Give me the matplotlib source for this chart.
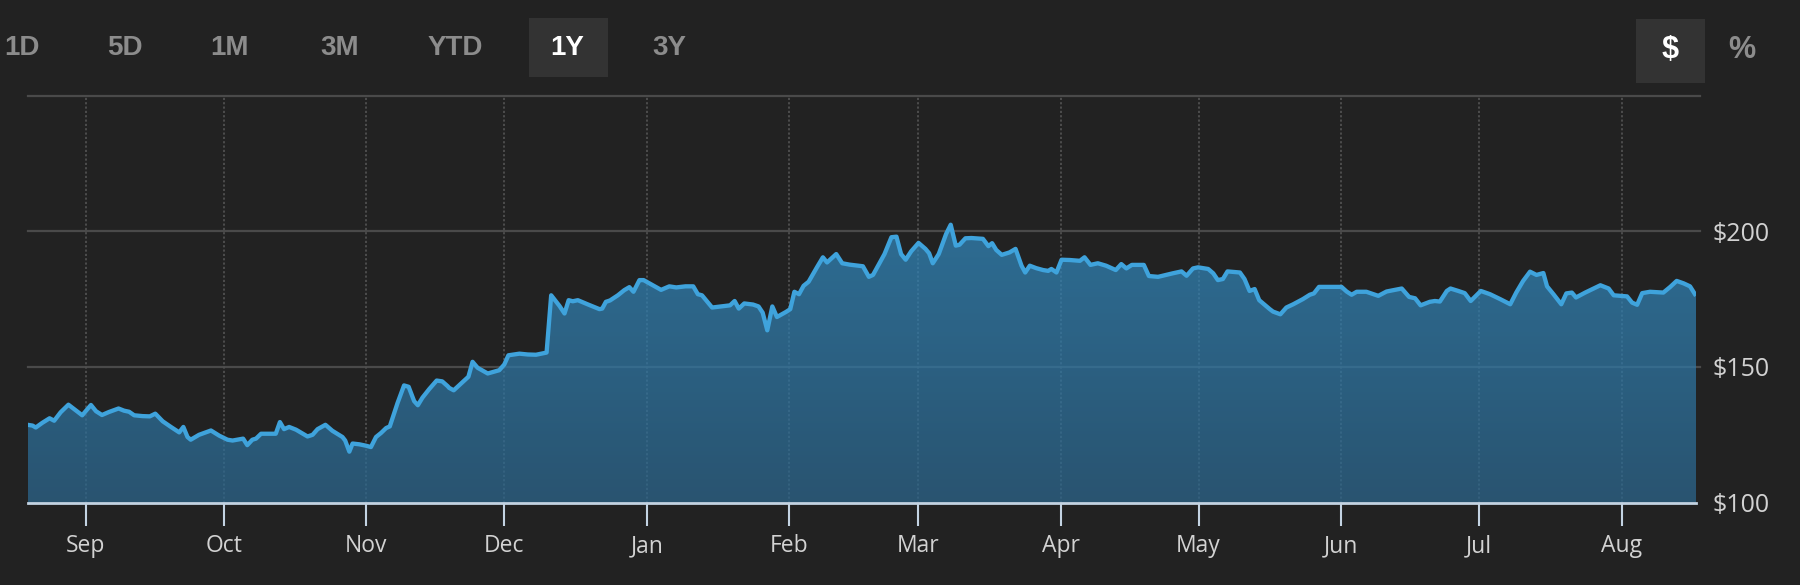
import numpy as np
import pandas as pd
import matplotlib
matplotlib.use("Agg")
import matplotlib.pyplot as plt
import matplotlib.dates as mdates
from matplotlib.patches import Polygon, Rectangle
from matplotlib.colors import LinearSegmentedColormap

# ---------------- data ----------------
start_date = "2020-09-01"
# x position of each vertex, in days after 1 Sep 2020
day_offsets = [
    -12.7, -11.6, -10.9, -9.5, -7.9, -6.9, -5.5, -3.8, -2.2, -0.8, 1.1, 2.2, 3.5, 5.0, 7.1, 8.3, 9.4,
    10.5, 12.3, 13.9, 15.1, 16.7, 18.5, 20.3, 21.2, 22.1, 22.8, 24.6, 27.2, 29.0, 30.8, 31.9, 34.2,
    35.1, 36.2, 37.0, 38.1, 39.5, 41.3, 42.2, 43.1, 44.2, 45.7, 48.2, 49.3, 50.4, 52.1, 53.6, 55.8,
    56.4, 57.3, 58.0, 59.5, 60.9, 62.0, 63.1, 64.2, 65.3, 66.1, 67.8, 69.2, 70.2, 71.4, 72.2, 73.2,
    74.7, 76.3, 77.5, 78.7,
    79.0, 80.0, 81.6, 83.2, 84.1, 85.2, 87.4, 89.9, 91.0, 91.9, 94.3, 96.1, 97.9, 99.0, 100.2,
    101.2, 103.0, 104.1, 105.0, 105.9, 107.0, 109.1, 111.7, 112.3, 113.1, 114.0, 115.7, 117.1,
    118.2, 119.1, 120.4, 121.3, 123.3, 125.1, 126.9, 128.4, 130.4, 132.1, 133.1, 134.0, 136.2,
    138.2, 140.1, 141.1, 142.0, 143.2, 145.1, 146.3, 147.2, 148.2, 149.3, 150.3, 152.3, 153.2,
    154.1, 155.1, 156.1, 157.2, 159.0, 160.3, 161.2, 163.2, 164.5,
    166.1, 169.0, 170.3, 171.2, 173.7, 175.2, 176.3, 177.3, 178.3, 179.5, 181.1, 182.6, 183.4,
    184.2, 185.5, 187.1, 188.1, 189.2, 190.0, 191.3, 192.6, 195.1, 196.3, 197.1, 198.0, 199.2,
    200.9, 202.2, 203.5, 204.3, 205.3, 206.7, 208.2, 209.3, 210.0, 211.1, 212.2, 214.0, 216.2,
    217.2, 218.5, 220.1, 221.9, 224.0, 225.2, 226.3, 227.5, 230.1, 231.2, 233.2, 236.4, 238.3,
    239.4, 240.8, 241.9, 244.1, 245.2, 246.2, 247.3, 248.3, 251.0, 252.0, 253.1, 254.2, 255.2,
    257.5,
    258.2, 259.8, 261.1, 262.6, 264.7, 266.2, 267.1, 268.2, 270.9, 273.1, 274.2, 275.3, 276.4,
    278.5, 281.1, 282.9, 286.2, 287.8, 289.1, 290.3, 292.3, 293.4, 294.5, 296.0, 296.8, 298.5,
    299.9, 301.2, 303.4, 305.4, 307.6, 309.8, 311.1, 312.6, 314.1, 315.5, 317.0, 317.8, 319.2,
    320.9, 322.0, 323.2, 324.1, 326.1, 329.4, 331.2, 332.3, 333.9, 335.2, 336.3, 337.4, 338.5,
    340.2, 343.1, 344.6, 346.0, 347.5, 348.9, 350.2,
]
prices = [
    128.7, 128.4, 127.7, 129.4, 131.1, 130.2, 133.3, 136.1, 134.0, 132.2, 136.0, 133.7, 132.3, 133.4,
    134.7, 133.9, 133.5, 132.2, 131.9, 131.8, 132.8, 130.0, 127.9, 125.9, 127.9, 124.2, 123.2, 125.0,
    126.6, 124.7, 123.2, 122.9, 123.6, 121.2, 123.2, 123.6, 125.4, 125.4, 125.4, 129.7, 127.1, 127.9,
    126.9, 124.4, 125.0, 127.1, 128.7, 126.5, 124.2, 122.9, 118.8, 121.8, 121.5, 121.0, 120.5, 124.2,
    125.7, 127.5, 128.1, 136.8, 143.2, 142.7, 137.4, 135.9, 138.7, 141.9, 145.0, 144.7, 142.9,
    142.3, 141.4, 143.9, 146.4, 151.9, 149.7, 147.6, 148.8, 150.9, 154.3, 154.9, 154.6, 154.5, 154.9,
    155.3, 176.4, 172.5, 169.7, 174.6, 174.2, 174.6, 173.1, 171.3, 171.5, 174.0, 174.5, 176.4, 178.3,
    179.4, 177.7, 182.0, 182.0, 180.1, 178.4, 179.7, 179.3, 179.7, 179.7, 176.8, 176.4, 171.9, 172.3,
    172.7, 174.3, 171.5, 173.4, 173.0, 172.3, 170.0, 163.5, 172.3, 168.4, 170.3, 171.3, 177.7, 176.8,
    179.9, 181.4, 186.7, 190.4, 188.5, 191.6, 188.2,
    187.7, 187.1, 183.2, 183.9, 191.6, 197.8, 198.0, 191.6, 189.5, 192.6, 195.7, 193.5, 191.9, 188.2,
    191.6, 199.0, 202.4, 194.7, 195.0, 197.4, 197.5, 197.2, 194.5, 195.6, 193.1, 191.3, 192.2, 193.5,
    187.3, 184.8, 187.3, 186.4, 185.7, 185.4, 186.1, 184.8, 189.5, 189.4, 189.1, 190.4, 187.6, 188.2,
    187.3, 185.7, 187.9, 186.3, 187.6, 187.6, 183.5, 183.2, 184.5, 185.2, 183.6, 186.3, 186.7, 186.1,
    184.5, 182.0, 182.4, 185.2, 184.8, 182.4, 178.0, 178.7, 174.6, 171.3,
    170.4, 169.4, 171.9, 173.1, 175.0, 176.6, 177.1, 179.5, 179.5, 179.5, 177.8, 176.6, 177.7, 177.7,
    176.2, 177.8, 178.9, 175.8, 175.3, 172.7, 174.0, 174.3, 174.1, 178.0, 178.9, 178.0, 177.2, 174.3,
    178.0, 176.8, 175.0, 173.1, 177.4, 181.7, 185.1, 183.9, 184.6, 179.7, 176.8, 173.1, 177.1, 177.4,
    175.6, 177.4, 180.1, 178.9, 176.4, 176.2, 176.0, 173.7, 172.9, 177.2, 177.7, 177.4, 179.5, 181.7,
    180.8, 179.7, 176.2,
]
assert len(day_offsets) == len(prices)

y_ticks = [100, 150, 200]
y_tick_labels = ["$100", "$150", "$200"]
y_grid = [150, 200, 250]
y_min, y_max = 100, 250

range_buttons = ["1D", "5D", "1M", "3M", "YTD", "1Y", "3Y"]
active_range = "1Y"
unit_buttons = ["$", "%"]
active_unit = "$"

# ---------------- styling ----------------
BG = "#222222"
LINE = "#3fa3dc"
AXIS = "#c3d3e2"
GRID = "#4a4a4a"
TXT = "#d2d2d2"
W, H = 1800, 585

fig = plt.figure(figsize=(W / 100, H / 100), dpi=100)
fig.patch.set_facecolor(BG)

left, right, top, bottom = 27.5, 1696, 95.5, 502.7
ax = fig.add_axes([left / W, 1 - bottom / H, (right - left) / W, (bottom - top) / H])
ax.set_facecolor("none")

dates = pd.Timestamp(start_date) + pd.to_timedelta(day_offsets, unit="D")
xnum = mdates.date2num(dates.to_pydatetime())

# horizontal grid lines
for g in y_grid:
    ax.axhline(g, color=GRID, lw=1.6, zorder=1, xmax=(1700 - left) / (right - left), clip_on=False)

# vertical dotted month grid
month_starts = pd.date_range("2020-09-01", "2021-08-01", freq="MS")
for m in month_starts:
    ax.axvline(mdates.date2num(m.to_pydatetime()), color="#505050", lw=1.3,
               linestyle=(0, (1.2, 1.2)), zorder=1)

# gradient fill under the line
verts = [(xnum[0], y_min)] + list(zip(xnum, prices)) + [(xnum[-1], y_min)]
poly = Polygon(verts, closed=True, facecolor="none", edgecolor="none")
ax.add_patch(poly)
cmap = LinearSegmentedColormap.from_list("g", ["#2c6890", "#338cc2"])
grad = np.linspace(0, 1, 256).reshape(-1, 1)
im = ax.imshow(grad, extent=[xnum[0], xnum[-1], y_min, 205], origin="lower",
               aspect="auto", cmap=cmap, alpha=0.72, zorder=2, interpolation="bicubic")
im.set_clip_path(poly)

# price line
ax.plot(xnum, prices, color=LINE, lw=3.1, zorder=4, solid_joinstyle="round", solid_capstyle="butt")

ax.set_xlim(xnum[0], xnum[-1])
ax.set_ylim(y_min, y_max)

for s in ["top", "left", "right"]:
    ax.spines[s].set_visible(False)
ax.spines["bottom"].set_color(AXIS)
ax.spines["bottom"].set_linewidth(2.0)
ax.spines["bottom"].set_zorder(5)

ax.xaxis.set_major_locator(mdates.MonthLocator())
ax.xaxis.set_major_formatter(mdates.DateFormatter("%b"))
ax.tick_params(axis="x", length=16.5, width=1.5, color=AXIS, pad=6,
               labelsize=16.5, labelcolor=TXT)
for lab in ax.get_xticklabels():
    lab.set_family(["Open Sans", "DejaVu Sans"])

ax.yaxis.tick_right()
ax.set_yticks(y_ticks)
ax.set_yticklabels(y_tick_labels)
ax.tick_params(axis="y", length=0, pad=12, labelsize=18, labelcolor=TXT)
for lab in ax.get_yticklabels():
    lab.set_family(["Open Sans", "DejaVu Sans"])

# ---------------- header buttons ----------------
btn_x = [22, 125, 230, 340, 455, 567, 669]
for lbl, bx in zip(range_buttons, btn_x):
    active = lbl == active_range
    if active:
        fig.patches.append(Rectangle((529 / W, 1 - 77 / H), 79 / W, 59 / H,
                                     transform=fig.transFigure, facecolor="#333333",
                                     edgecolor="none", zorder=0))
    fig.text(bx / W, 1 - 48 / H, lbl, ha="center", va="center", fontsize=20,
             fontweight="bold", color="white" if active else "#8c8c8c",
             family=["Liberation Sans Narrow", "Liberation Sans", "DejaVu Sans"])

unit_x = [1670, 1742]
for lbl, ux in zip(unit_buttons, unit_x):
    active = lbl == active_unit
    if active:
        fig.patches.append(Rectangle((1636 / W, 1 - 83 / H), 69 / W, 64 / H,
                                     transform=fig.transFigure, facecolor="#333333",
                                     edgecolor="none", zorder=0))
    fig.text(ux / W, 1 - 50 / H, lbl, ha="center", va="center", fontsize=22,
             fontweight="bold", color="white" if active else "#8c8c8c",
             family=["Liberation Sans", "DejaVu Sans"])

fig.savefig("out.png", dpi=100, facecolor=BG)
